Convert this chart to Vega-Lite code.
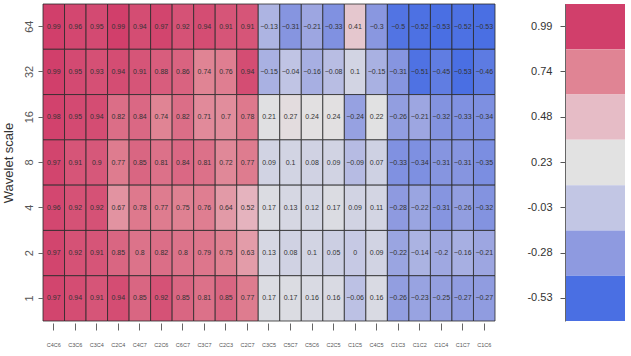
{
  "$schema": "https://vega.github.io/schema/vega-lite/v6.json",
  "padding": {"left": 2, "top": 3, "right": 0, "bottom": 0},
  "background": "white",
  "config": {"font": "Liberation Sans", "view": {"stroke": null}},
  "datasets": {
    "cells": [
      {"scale": "64", "pair": "C4C6", "v": 0.99}, {"scale": "64", "pair": "C3C6", "v": 0.96}, {"scale": "64", "pair": "C3C4", "v": 0.95}, {"scale": "64", "pair": "C2C4", "v": 0.99}, {"scale": "64", "pair": "C4C7", "v": 0.94}, {"scale": "64", "pair": "C2C6", "v": 0.97}, {"scale": "64", "pair": "C6C7", "v": 0.92}, {"scale": "64", "pair": "C3C7", "v": 0.94}, {"scale": "64", "pair": "C2C3", "v": 0.91}, {"scale": "64", "pair": "C2C7", "v": 0.91}, {"scale": "64", "pair": "C3C5", "v": -0.13}, {"scale": "64", "pair": "C5C7", "v": -0.31}, {"scale": "64", "pair": "C5C6", "v": -0.21}, {"scale": "64", "pair": "C2C5", "v": -0.33}, {"scale": "64", "pair": "C1C5", "v": 0.41}, {"scale": "64", "pair": "C4C5", "v": -0.3}, {"scale": "64", "pair": "C1C3", "v": -0.5}, {"scale": "64", "pair": "C1C2", "v": -0.52}, {"scale": "64", "pair": "C1C4", "v": -0.53}, {"scale": "64", "pair": "C1C7", "v": -0.52}, {"scale": "64", "pair": "C1C6", "v": -0.53},
      {"scale": "32", "pair": "C4C6", "v": 0.99}, {"scale": "32", "pair": "C3C6", "v": 0.95}, {"scale": "32", "pair": "C3C4", "v": 0.93}, {"scale": "32", "pair": "C2C4", "v": 0.94}, {"scale": "32", "pair": "C4C7", "v": 0.91}, {"scale": "32", "pair": "C2C6", "v": 0.88}, {"scale": "32", "pair": "C6C7", "v": 0.86}, {"scale": "32", "pair": "C3C7", "v": 0.74}, {"scale": "32", "pair": "C2C3", "v": 0.76}, {"scale": "32", "pair": "C2C7", "v": 0.94}, {"scale": "32", "pair": "C3C5", "v": -0.15}, {"scale": "32", "pair": "C5C7", "v": -0.04}, {"scale": "32", "pair": "C5C6", "v": -0.16}, {"scale": "32", "pair": "C2C5", "v": -0.08}, {"scale": "32", "pair": "C1C5", "v": 0.1}, {"scale": "32", "pair": "C4C5", "v": -0.15}, {"scale": "32", "pair": "C1C3", "v": -0.31}, {"scale": "32", "pair": "C1C2", "v": -0.51}, {"scale": "32", "pair": "C1C4", "v": -0.45}, {"scale": "32", "pair": "C1C7", "v": -0.53}, {"scale": "32", "pair": "C1C6", "v": -0.46},
      {"scale": "16", "pair": "C4C6", "v": 0.98}, {"scale": "16", "pair": "C3C6", "v": 0.95}, {"scale": "16", "pair": "C3C4", "v": 0.94}, {"scale": "16", "pair": "C2C4", "v": 0.82}, {"scale": "16", "pair": "C4C7", "v": 0.84}, {"scale": "16", "pair": "C2C6", "v": 0.74}, {"scale": "16", "pair": "C6C7", "v": 0.82}, {"scale": "16", "pair": "C3C7", "v": 0.71}, {"scale": "16", "pair": "C2C3", "v": 0.7}, {"scale": "16", "pair": "C2C7", "v": 0.78}, {"scale": "16", "pair": "C3C5", "v": 0.21}, {"scale": "16", "pair": "C5C7", "v": 0.27}, {"scale": "16", "pair": "C5C6", "v": 0.24}, {"scale": "16", "pair": "C2C5", "v": 0.24}, {"scale": "16", "pair": "C1C5", "v": -0.24}, {"scale": "16", "pair": "C4C5", "v": 0.22}, {"scale": "16", "pair": "C1C3", "v": -0.26}, {"scale": "16", "pair": "C1C2", "v": -0.21}, {"scale": "16", "pair": "C1C4", "v": -0.32}, {"scale": "16", "pair": "C1C7", "v": -0.33}, {"scale": "16", "pair": "C1C6", "v": -0.34},
      {"scale": "8", "pair": "C4C6", "v": 0.97}, {"scale": "8", "pair": "C3C6", "v": 0.91}, {"scale": "8", "pair": "C3C4", "v": 0.9}, {"scale": "8", "pair": "C2C4", "v": 0.77}, {"scale": "8", "pair": "C4C7", "v": 0.85}, {"scale": "8", "pair": "C2C6", "v": 0.81}, {"scale": "8", "pair": "C6C7", "v": 0.84}, {"scale": "8", "pair": "C3C7", "v": 0.81}, {"scale": "8", "pair": "C2C3", "v": 0.72}, {"scale": "8", "pair": "C2C7", "v": 0.77}, {"scale": "8", "pair": "C3C5", "v": 0.09}, {"scale": "8", "pair": "C5C7", "v": 0.1}, {"scale": "8", "pair": "C5C6", "v": 0.08}, {"scale": "8", "pair": "C2C5", "v": 0.09}, {"scale": "8", "pair": "C1C5", "v": -0.09}, {"scale": "8", "pair": "C4C5", "v": 0.07}, {"scale": "8", "pair": "C1C3", "v": -0.33}, {"scale": "8", "pair": "C1C2", "v": -0.34}, {"scale": "8", "pair": "C1C4", "v": -0.31}, {"scale": "8", "pair": "C1C7", "v": -0.31}, {"scale": "8", "pair": "C1C6", "v": -0.35},
      {"scale": "4", "pair": "C4C6", "v": 0.96}, {"scale": "4", "pair": "C3C6", "v": 0.92}, {"scale": "4", "pair": "C3C4", "v": 0.92}, {"scale": "4", "pair": "C2C4", "v": 0.67}, {"scale": "4", "pair": "C4C7", "v": 0.78}, {"scale": "4", "pair": "C2C6", "v": 0.77}, {"scale": "4", "pair": "C6C7", "v": 0.75}, {"scale": "4", "pair": "C3C7", "v": 0.76}, {"scale": "4", "pair": "C2C3", "v": 0.64}, {"scale": "4", "pair": "C2C7", "v": 0.52}, {"scale": "4", "pair": "C3C5", "v": 0.17}, {"scale": "4", "pair": "C5C7", "v": 0.13}, {"scale": "4", "pair": "C5C6", "v": 0.12}, {"scale": "4", "pair": "C2C5", "v": 0.17}, {"scale": "4", "pair": "C1C5", "v": 0.09}, {"scale": "4", "pair": "C4C5", "v": 0.11}, {"scale": "4", "pair": "C1C3", "v": -0.28}, {"scale": "4", "pair": "C1C2", "v": -0.22}, {"scale": "4", "pair": "C1C4", "v": -0.31}, {"scale": "4", "pair": "C1C7", "v": -0.26}, {"scale": "4", "pair": "C1C6", "v": -0.32},
      {"scale": "2", "pair": "C4C6", "v": 0.97}, {"scale": "2", "pair": "C3C6", "v": 0.92}, {"scale": "2", "pair": "C3C4", "v": 0.91}, {"scale": "2", "pair": "C2C4", "v": 0.85}, {"scale": "2", "pair": "C4C7", "v": 0.8}, {"scale": "2", "pair": "C2C6", "v": 0.82}, {"scale": "2", "pair": "C6C7", "v": 0.8}, {"scale": "2", "pair": "C3C7", "v": 0.79}, {"scale": "2", "pair": "C2C3", "v": 0.75}, {"scale": "2", "pair": "C2C7", "v": 0.63}, {"scale": "2", "pair": "C3C5", "v": 0.13}, {"scale": "2", "pair": "C5C7", "v": 0.08}, {"scale": "2", "pair": "C5C6", "v": 0.1}, {"scale": "2", "pair": "C2C5", "v": 0.05}, {"scale": "2", "pair": "C1C5", "v": 0}, {"scale": "2", "pair": "C4C5", "v": 0.09}, {"scale": "2", "pair": "C1C3", "v": -0.22}, {"scale": "2", "pair": "C1C2", "v": -0.14}, {"scale": "2", "pair": "C1C4", "v": -0.2}, {"scale": "2", "pair": "C1C7", "v": -0.16}, {"scale": "2", "pair": "C1C6", "v": -0.21},
      {"scale": "1", "pair": "C4C6", "v": 0.97}, {"scale": "1", "pair": "C3C6", "v": 0.94}, {"scale": "1", "pair": "C3C4", "v": 0.91}, {"scale": "1", "pair": "C2C4", "v": 0.94}, {"scale": "1", "pair": "C4C7", "v": 0.85}, {"scale": "1", "pair": "C2C6", "v": 0.92}, {"scale": "1", "pair": "C6C7", "v": 0.85}, {"scale": "1", "pair": "C3C7", "v": 0.81}, {"scale": "1", "pair": "C2C3", "v": 0.85}, {"scale": "1", "pair": "C2C7", "v": 0.77}, {"scale": "1", "pair": "C3C5", "v": 0.17}, {"scale": "1", "pair": "C5C7", "v": 0.17}, {"scale": "1", "pair": "C5C6", "v": 0.16}, {"scale": "1", "pair": "C2C5", "v": 0.16}, {"scale": "1", "pair": "C1C5", "v": -0.06}, {"scale": "1", "pair": "C4C5", "v": 0.16}, {"scale": "1", "pair": "C1C3", "v": -0.26}, {"scale": "1", "pair": "C1C2", "v": -0.23}, {"scale": "1", "pair": "C1C4", "v": -0.25}, {"scale": "1", "pair": "C1C7", "v": -0.27}, {"scale": "1", "pair": "C1C6", "v": -0.27}
    ],
    "legend": [
      {"lab": "0.99", "v": 0.99}, {"lab": "0.74", "v": 0.74}, {"lab": "0.48", "v": 0.48}, {"lab": "0.23", "v": 0.23}, {"lab": "-0.03", "v": -0.03}, {"lab": "-0.28", "v": -0.28}, {"lab": "-0.53", "v": -0.53}
    ]
  },
  "hconcat": [
    {
      "width": 452,
      "height": 317,
      "data": {"name": "cells"},
      "encoding": {
        "x": {
          "field": "pair", "type": "nominal",
          "sort": ["C4C6","C3C6","C3C4","C2C4","C4C7","C2C6","C6C7","C3C7","C2C3","C2C7","C3C5","C5C7","C5C6","C2C5","C1C5","C4C5","C1C3","C1C2","C1C4","C1C7","C1C6"],
          "scale": {"paddingInner": 0, "paddingOuter": 0},
          "axis": {"title": null, "labelAngle": 0, "labelFontSize": 5.5, "labelColor": "#555", "domain": false, "tickColor": "#666", "tickSize": 7, "offset": 2, "labelPadding": 12}
        },
        "y": {
          "field": "scale", "type": "ordinal",
          "sort": ["64","32","16","8","4","2","1"],
          "scale": {"paddingInner": 0, "paddingOuter": 0},
          "axis": {"title": "Wavelet scale", "titleFontSize": 13, "titleFontWeight": "normal", "titleColor": "#333", "titlePadding": 8, "labelAngle": -90, "labelAlign": "center", "labelBaseline": "bottom", "labelFontSize": 11, "labelColor": "#555", "domain": false, "tickColor": "#666", "tickSize": 5, "labelPadding": 4}
        }
      },
      "layer": [
        {
          "mark": {"type": "rect", "stroke": "#2a2a2a", "strokeWidth": 0.8},
          "encoding": {
            "color": {
              "field": "v", "type": "quantitative",
              "scale": {"domain": [-0.53, -0.28, -0.03, 0.23, 0.48, 0.74, 0.99], "range": ["#4A6FE3", "#8E9AE0", "#C2C6E4", "#E2E2E2", "#E6BCC6", "#E08494", "#D13F6B"], "interpolate": "rgb"},
              "legend": null
            }
          }
        },
        {
          "mark": {"type": "text", "fontSize": 7, "color": "#333"},
          "encoding": {"text": {"field": "v", "type": "quantitative", "format": ".2~f"}}
        }
      ]
    },
    {
      "width": 60,
      "height": 317,
      "data": {"name": "legend"},
      "mark": {"type": "rect"},
      "encoding": {
        "y": {
          "field": "lab", "type": "nominal",
          "sort": ["0.99","0.74","0.48","0.23","-0.03","-0.28","-0.53"],
          "scale": {"paddingInner": 0, "paddingOuter": 0},
          "axis": {"title": null, "labelFontSize": 11, "labelColor": "#333", "domainColor": "#666", "tickColor": "#555", "tickSize": 5, "labelPadding": 8}
        },
        "color": {"field": "v", "type": "quantitative", "legend": null}
      }
    }
  ],
  "spacing": 30
}
